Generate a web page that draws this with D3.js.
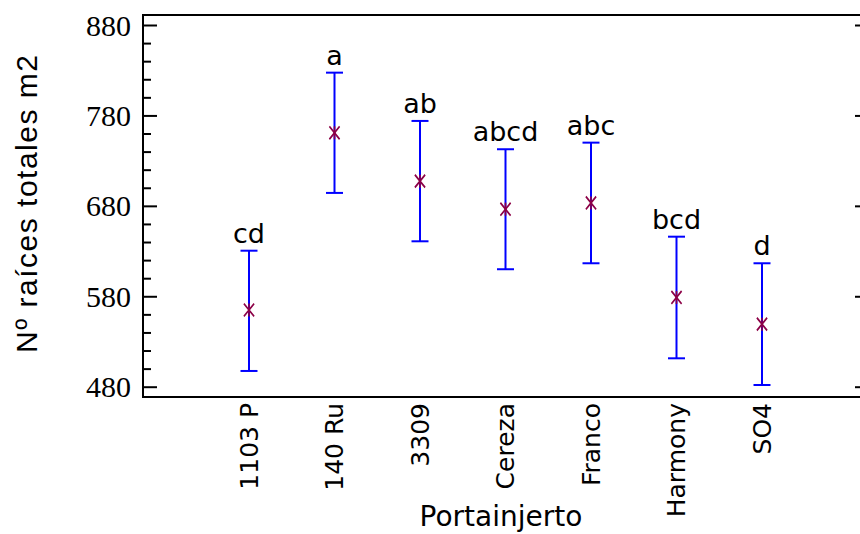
<!DOCTYPE html>
<html>
<head>
<meta charset="utf-8">
<script src="https://cdn.jsdelivr.net/npm/d3@7"></script>
<style>
  body { margin: 0; background: #fff; }
  svg { display: block; }
</style>
</head>
<body>
<div class="chart"></div>
<script>
// Data
var categories = ["1103 P", "140 Ru", "3309", "Cereza", "Franco", "Harmony", "SO4"];
var means = [564.8, 760.8, 707.3, 676.3, 683.2, 578.7, 549.2];
var lower = [497.4, 694.3, 640.8, 609.9, 616.5, 511.4, 481.9];
var upper = [630.4, 827.3, 773.9, 742.6, 749.9, 645.9, 616.5];
var groups = ["cd", "a", "ab", "abcd", "abc", "bcd", "d"];
var yTicks = [480, 580, 680, 780, 880];

var svgWidth = 860;
var svgHeight = 534;

// plot frame
var frame = { left: 143, right: 869, top: 15, bottom: 397 };

var svg = d3.select(".chart")
  .append("svg")
  .attr("width", svgWidth)
  .attr("height", svgHeight);

var data = categories.map(function (c, i) {
  return { cat: c, mean: means[i], lo: lower[i], hi: upper[i], grp: groups[i] };
});

// Scales
var xScale = d3.scalePoint()
  .domain(categories)
  .range([249, 762]);

var yScale = d3.scaleLinear()
  .domain([480, 880])
  .range([386.7, 25]);

// Left axis: major ticks inward + minor ticks every 20
var leftAxis = d3.axisRight(yScale)
  .tickValues(yTicks)
  .tickSize(14)
  .tickFormat("");

var leftMinor = d3.axisRight(yScale)
  .tickValues(d3.range(500, 880, 20).filter(function (v) { return v % 100 !== 80; }))
  .tickSize(8)
  .tickFormat("");

var rightAxis = d3.axisLeft(yScale)
  .tickValues(yTicks)
  .tickSize(14)
  .tickFormat("");

svg.append("g")
  .attr("transform", `translate(${frame.left}, 0)`)
  .call(leftAxis);
svg.append("g")
  .attr("transform", `translate(${frame.left}, 0)`)
  .call(leftMinor);
svg.append("g")
  .attr("transform", `translate(${frame.right}, 0)`)
  .call(rightAxis);

svg.selectAll(".domain").remove();
svg.selectAll(".tick line").attr("stroke", "#000").attr("stroke-width", 2);

// frame lines (left, top, bottom)
svg.append("path")
  .attr("d", `M${frame.right},${frame.top}H${frame.left}V${frame.bottom}H${frame.right}`)
  .attr("fill", "none")
  .attr("stroke", "#000")
  .attr("stroke-width", 2);

// y tick labels (serif)
svg.append("g")
  .selectAll("text")
  .data(yTicks)
  .enter()
  .append("text")
  .attr("x", 131)
  .attr("y", d => yScale(d))
  .attr("dy", "0.35em")
  .attr("text-anchor", "end")
  .style("font-family", "'Liberation Serif', 'Times New Roman', serif")
  .style("font-size", "30px")
  .text(d => d);

// Error bars
var bars = svg.append("g")
  .selectAll("g")
  .data(data)
  .enter()
  .append("g")
  .attr("stroke", "#0000ff")
  .attr("stroke-width", 2);

bars.append("line")
  .attr("x1", d => xScale(d.cat))
  .attr("x2", d => xScale(d.cat))
  .attr("y1", d => yScale(d.lo))
  .attr("y2", d => yScale(d.hi));

bars.append("line")
  .attr("x1", d => xScale(d.cat) - 8.5)
  .attr("x2", d => xScale(d.cat) + 8.5)
  .attr("y1", d => yScale(d.hi))
  .attr("y2", d => yScale(d.hi));

bars.append("line")
  .attr("x1", d => xScale(d.cat) - 8.5)
  .attr("x2", d => xScale(d.cat) + 8.5)
  .attr("y1", d => yScale(d.lo))
  .attr("y2", d => yScale(d.lo));

// Mean markers (asterisk: X plus short vertical)
var markers = svg.append("g")
  .selectAll("g")
  .data(data)
  .enter()
  .append("g")
  .attr("transform", d => `translate(${xScale(d.cat)}, ${yScale(d.mean)})`)
  .attr("fill", "none")
  .attr("stroke", "#8c0046")
  .attr("stroke-width", 1.6);

markers.append("path")
  .attr("transform", "scale(1, 1.25)")
  .attr("d", d3.symbol(d3.symbolTimes, 70));

markers.append("line")
  .attr("y1", -6.5)
  .attr("y2", 6.5);

// Group letters
svg.append("g")
  .selectAll("text")
  .data(data)
  .enter()
  .append("text")
  .attr("x", d => xScale(d.cat))
  .attr("y", d => yScale(d.hi) - 8)
  .attr("text-anchor", "middle")
  .style("font-family", "'DejaVu Sans', sans-serif")
  .style("font-size", "27px")
  .text(d => d.grp);

// x tick labels, rotated, under each point
svg.append("g")
  .selectAll("text")
  .data(categories)
  .enter()
  .append("text")
  .attr("transform", d => `translate(${xScale(d)}, 403) rotate(-90)`)
  .attr("dy", "0.35em")
  .attr("text-anchor", "end")
  .style("font-family", "'DejaVu Sans', sans-serif")
  .style("font-size", "25px")
  .text(d => d);

// Axis titles
svg.append("text")
  .attr("x", 501)
  .attr("y", 526)
  .attr("text-anchor", "middle")
  .style("font-family", "'DejaVu Sans', sans-serif")
  .style("font-size", "28px")
  .text("Portainjerto");

svg.append("text")
  .attr("transform", "translate(37, 204) rotate(-90)")
  .attr("text-anchor", "middle")
  .attr("textLength", 298)
  .attr("lengthAdjust", "spacing")
  .style("font-family", "'Liberation Sans', Arial, sans-serif")
  .style("font-size", "30px")
  .text("Nº raíces totales m2");
</script>
</body>
</html>
